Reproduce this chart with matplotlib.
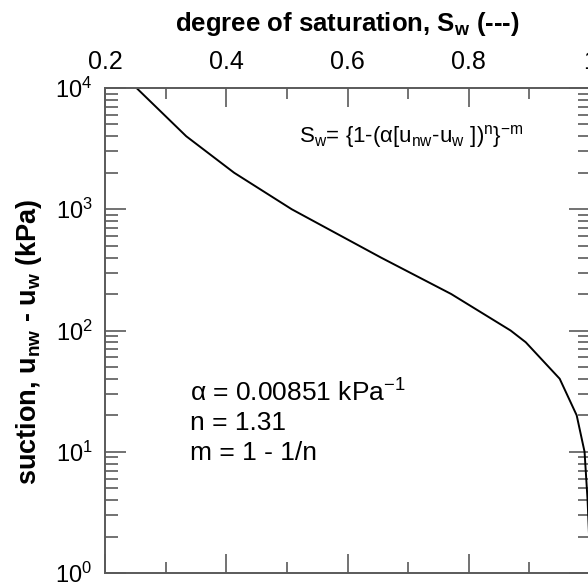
import matplotlib
matplotlib.use("Agg")
import matplotlib.pyplot as plt
from matplotlib.ticker import LogLocator, MultipleLocator, FixedLocator

plt.rcParams['font.family'] = ['Liberation Sans', 'DejaVu Sans']
plt.rcParams['mathtext.fontset'] = 'custom'
plt.rcParams['mathtext.rm'] = 'Liberation Sans'
plt.rcParams['mathtext.it'] = 'Liberation Sans'
plt.rcParams['mathtext.bf'] = 'Liberation Sans:bold'

# suction (kPa) and degree of saturation
suction = [1, 2, 4, 10, 20, 40, 80, 100, 200, 400, 1000, 2000, 4000, 10000]
saturation = [0.9995, 0.9985, 0.996, 0.991, 0.978, 0.950, 0.894, 0.869,
              0.771, 0.655, 0.508, 0.413, 0.334, 0.252]

xticks = [0.2, 0.4, 0.6, 0.8, 1.0]
xtick_labels = ['0.2', '0.4', '0.6', '0.8', '1']

grey = '#5a5a5a'

fig = plt.figure(figsize=(5.88, 5.88), dpi=100)
ax = fig.add_axes([105 / 588, 1 - 573 / 588, 485 / 588, 485 / 588])

ax.plot(saturation, suction, color='black', lw=1.4)
ax.set_yscale('log')
ax.set_xlim(0.2, 1.0)
ax.set_ylim(1, 1e4)

ax.xaxis.set_major_locator(FixedLocator(xticks))
ax.set_xticklabels(xtick_labels)
ax.xaxis.set_minor_locator(MultipleLocator(0.1))
ax.yaxis.set_major_locator(LogLocator(base=10, numticks=10))
ax.yaxis.set_minor_locator(LogLocator(base=10, subs=range(2, 10), numticks=10))

ax.tick_params(axis='x', which='both', direction='in', top=True, bottom=True,
               labeltop=True, labelbottom=False, color=grey, width=1.2,
               labelsize=18, pad=10)
ax.tick_params(axis='x', which='major', length=14)
ax.tick_params(axis='x', which='minor', length=8)
ax.tick_params(axis='y', which='both', direction='in', left=True, right=True,
               color=grey, width=1.2, labelsize=17, pad=9)
ax.tick_params(axis='y', which='major', length=15)
ax.tick_params(axis='y', which='minor', length=9)
for s in ax.spines.values():
    s.set_color(grey)
    s.set_linewidth(1.4)

ax.xaxis.set_label_position('top')
ax.set_xlabel(r'degree of saturation, S$_{\mathbf{w}}$ (---)', fontsize=18.5,
              fontweight='bold', labelpad=14)
ax.set_ylabel(r'suction, u$_{\mathbf{nw}}$ - u$_{\mathbf{w}}$ (kPa)', fontsize=19.5,
              fontweight='bold')
ax.yaxis.set_label_coords(-0.125, 0.476)

ax.text(0.40, 0.899, r'S$_\mathregular{w}$= {1-($\alpha$[u$_\mathregular{nw}$-u$_\mathregular{w}$ ])$^\mathregular{n}$}$^\mathregular{-m}$',
        transform=ax.transAxes, fontsize=16, ha='left', va='center')
ax.text(0.175, 0.371, r'$\alpha$ = 0.00851 kPa$^\mathregular{-1}$', transform=ax.transAxes,
        fontsize=19, ha='left', va='center')
ax.text(0.175, 0.309, 'n = 1.31', transform=ax.transAxes, fontsize=19,
        ha='left', va='center')
ax.text(0.175, 0.247, 'm = 1 - 1/n', transform=ax.transAxes, fontsize=19,
        ha='left', va='center')

fig.savefig('out.png', dpi=100)
